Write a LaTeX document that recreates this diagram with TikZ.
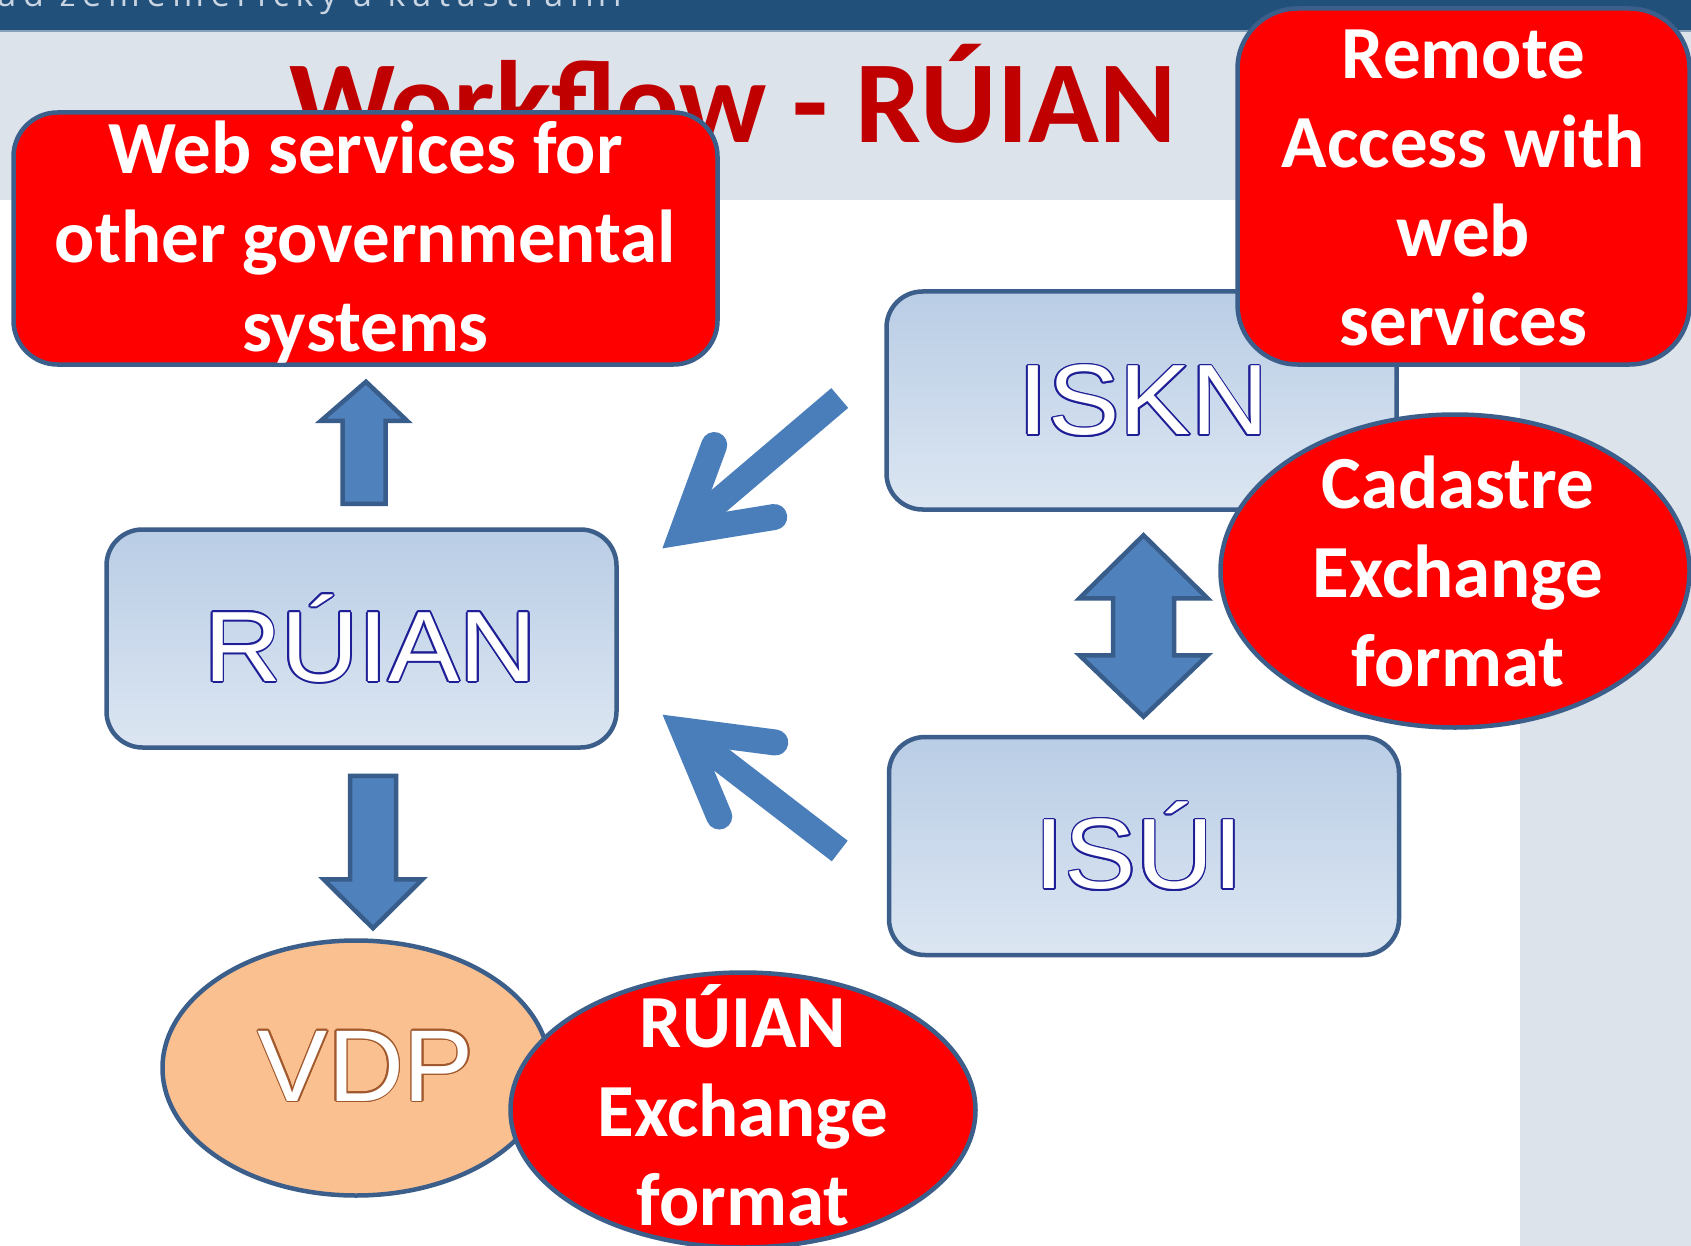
\documentclass[tikz,border=0pt]{standalone}
\usepackage{fontspec}
\setmainfont{Carlito}
\newfontfamily\arialfont[FakeStretch=1.07]{Liberation Sans}
\newfontfamily\vdpfont[FakeStretch=1.03]{Liberation Sans}
\newfontfamily\barfont[LetterSpace=20]{Open Sans}
\usetikzlibrary{shapes.geometric,calc}

\definecolor{barblue}{HTML}{21507B}
\definecolor{bartext}{HTML}{C9D5E2}
\definecolor{band}{HTML}{DCE3EA}
\definecolor{titlered}{HTML}{C00000}
\definecolor{calloutred}{HTML}{FF0000}
\definecolor{boxline}{HTML}{3C5E8A}
\definecolor{boxtop}{HTML}{B9CDE5}
\definecolor{boxbottom}{HTML}{DCE6F2}
\definecolor{arrowfill}{HTML}{4F81BD}
\definecolor{arrowline}{HTML}{385D8A}
\definecolor{flowblue}{HTML}{4A7EBB}
\definecolor{navyline}{HTML}{1E1E96}
\definecolor{peach}{HTML}{FAC090}
\definecolor{brownline}{HTML}{A0582C}

% white letters with a thin coloured rim
\newcommand\outlined[2]{%
  \makebox[0pt][l]{\foreach \ang in {0,30,...,330}{%
    \makebox[0pt][l]{\hspace*{\fpeval{round(1.7*cosd(\ang),3)}pt}%
      \raisebox{\fpeval{round(1.7*sind(\ang),3)}pt}{\textcolor{#1}{#2}}}}}%
  \textcolor{white}{#2}}

\begin{document}
\begin{tikzpicture}[x=1pt,y=-1pt,
  sysbox/.style={draw=boxline, line width=4.5pt, rounded corners=36pt,
    top color=boxtop, bottom color=boxbottom, inner sep=0pt,
    minimum width=510pt, minimum height=218pt},
  systext/.style={inner sep=0pt, font=\arialfont\fontsize{100}{100}\selectfont},
  redbox/.style={draw=boxline, line width=4.5pt, fill=calloutred, inner sep=0pt},
  redtext/.style={text=white, align=center, font=\bfseries\fontsize{75}{89}\selectfont},
  blockarrow/.style={draw=arrowline, line width=4.5pt, fill=arrowfill, line join=miter},
  flowarrow/.style={draw=flowblue, line width=26pt}]

  \useasboundingbox (0,0) rectangle (1691,1246);
  \clip (0,0) rectangle (1691,1246);

  % slide background
  \fill[white] (0,0) rectangle (1691,1246);
  \fill[band] (0,31) rectangle (1691,200);
  \fill[band] (1520,200) rectangle (1691,1246);
  \fill[barblue] (0,0) rectangle (1691,31);
  \draw[bartext!60!barblue, line width=1.5pt] (0,31) -- (1691,31);
  \node[anchor=base east, inner sep=0pt, text=bartext,
    font=\barfont\fontsize{34}{34}\selectfont] (agency) at (622,7)
    {úřad zeměměřický a katastrální};
  \node[anchor=base, inner sep=0pt, text=titlered,
    font=\bfseries\fontsize{117}{117}\selectfont] (title) at (733,143)
    {Workflow - RÚIAN};

  % systems
  \node[sysbox, label={[systext, xshift=9pt]center:\outlined{navyline}{RÚIAN}}]
    (ruian) at (361.5,638.5) {};
  \node[sysbox, label={[systext, xshift=2pt]center:\outlined{navyline}{ISKN}}]
    (iskn) at (1141.5,400.5) {};
  \node[sysbox, label={[systext, xshift=-5pt]center:\outlined{navyline}{ISÚI}}]
    (isui) at (1144,846) {};
  \node[ellipse, draw=boxline, line width=4.5pt, fill=peach, inner sep=0pt,
    minimum width=387pt, minimum height=255pt,
    label={[systext, font=\vdpfont\fontsize{102}{102}\selectfont, xshift=10pt, yshift=2pt]center:\outlined{brownline}{VDP}}]
    (vdp) at (356,1068) {};

  % callouts
  \node[redbox, rounded corners=44pt, minimum width=704pt, minimum height=252pt,
    label={[redtext, yshift=-4pt]center:Web services for\\other governmental\\systems}]
    (web) at (365.5,238.5) {};
  \node[redbox, rounded corners=60pt, minimum width=452pt, minimum height=356pt,
    label={[redtext, yshift=-1pt]center:Remote\\Access with\\web\\services}]
    (remote) at (1463.5,186.5) {};
  \node[redbox, ellipse, minimum width=469pt, minimum height=313pt,
    label={[redtext, xshift=3pt]center:Cadastre\\Exchange\\format}]
    (cadastre) at (1455,571) {};
  \node[redbox, ellipse, minimum width=465pt, minimum height=275pt,
    label={[redtext, yshift=5pt]center:RÚIAN\\Exchange\\format}]
    (ruianfmt) at (743,1110) {};

  % block arrows
  \draw[blockarrow] ($(web.south)+(0.5,15)$) -- ++(41,39) -- ++(-21.5,0) -- ++(0,83)
    -- ++(-43,0) -- ++(0,-83) -- ++(-21.5,0) -- cycle;
  \draw[blockarrow] ($(ruian.south)+(-11.5,26)$) -- ++(46,0) -- ++(0,103.5)
    -- ++(26.5,0) -- ++(-49.5,49) -- ++(-49.5,-49) -- ++(26.5,0) -- cycle;
  \draw[blockarrow] ($(iskn.south)+(2,23.5)$) -- ++(64,63) -- ++(-33.5,0)
    -- ++(0,57) -- ++(33.5,0) -- ++(-64,61.5) -- ++(-64,-61.5) -- ++(33.5,0)
    -- ++(0,-57) -- ++(-33.5,0) -- cycle;

  % data flow into RUIAN
  \coordinate (iskn-out) at ($(iskn.west)+(-44.5,-2.5)$);
  \coordinate (ruian-in1) at ($(ruian.east)+(63.5,-106.5)$);
  \coordinate (isui-out) at ($(isui.west)+(-47,5)$);
  \coordinate (ruian-in2) at ($(ruian.east)+(64.5,92)$);
  \draw[flowarrow] (iskn-out) -- (ruian-in1);
  \draw[flowarrow, line cap=round] ($(ruian-in1)+(32,-87)$) -- (ruian-in1)
    -- ($(ruian-in1)+(92,-15)$);
  \draw[flowarrow] (isui-out) -- (ruian-in2);
  \draw[flowarrow, line cap=round] ($(ruian-in2)+(92,12)$) -- (ruian-in2)
    -- ($(ruian-in2)+(36,86)$);
\end{tikzpicture}
\end{document}
